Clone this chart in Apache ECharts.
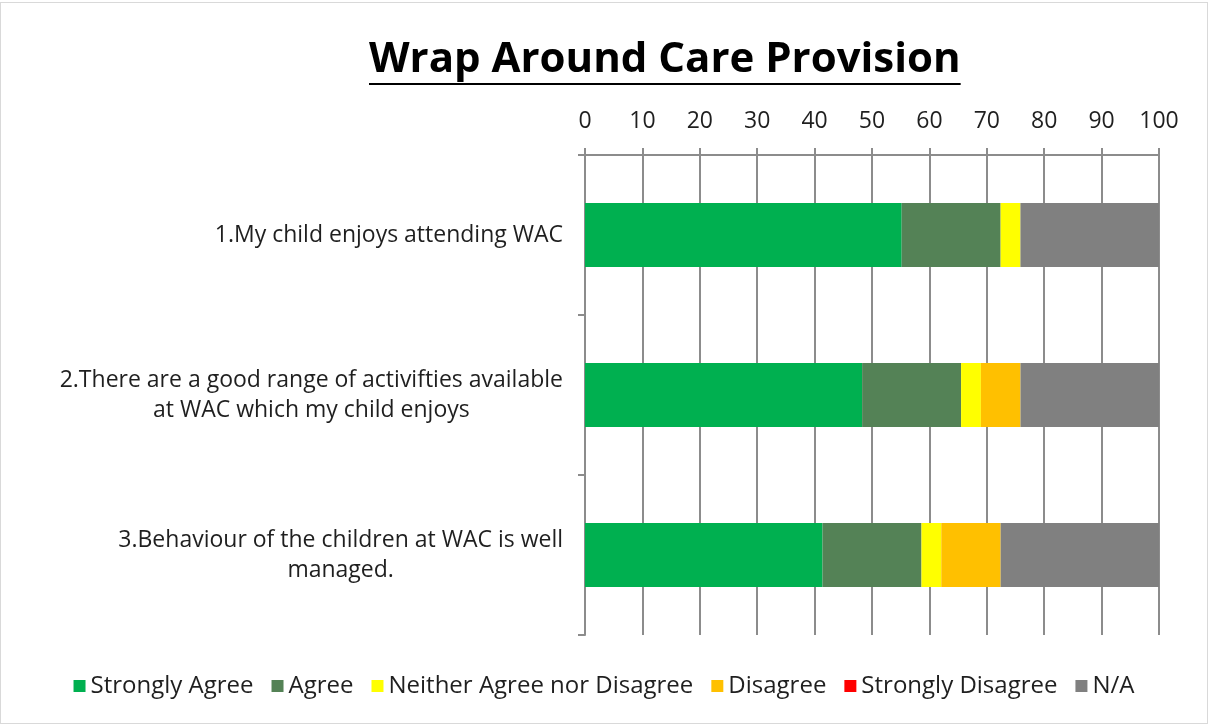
<!DOCTYPE html>
<html>
<head>
<meta charset="utf-8">
<script src="https://cdn.jsdelivr.net/npm/echarts@6/dist/echarts.min.js"></script>
<style>
  html, body { margin: 0; padding: 0; background: #fff; }
  #chart { width: 1208px; height: 722px; border: 1px solid #d9d9d9; box-sizing: border-box; margin-top: 2px; }
</style>
</head>
<body>
<div id="chart"></div>
<script>
  // 数据
  var questions = [
    '1.My child enjoys attending WAC',
    '2.There are a good range of activifties available\nat WAC which my child enjoys',
    '3.Behaviour of the children at WAC is well\nmanaged.'
  ]
  var stronglyAgree = [55.17, 48.28, 41.38]
  var agree = [17.24, 17.24, 17.24]
  var neither = [3.45, 3.45, 3.45]
  var disagree = [0, 6.9, 10.34]
  var stronglyDisagree = [0, 0, 0]
  var notApplicable = [24.14, 24.14, 27.59]
  var xTicks = [0, 100, 10] // min, max, interval

  var font = '"Open Sans", sans-serif'
  var textColor = '#1f1f1f'
  var chart = echarts.init(document.getElementById('chart'))

  function bar(name, data, color) {
    return {
      name: name,
      type: 'bar',
      stack: 'all',
      barWidth: '40%',
      data: data,
      itemStyle: { color: color },
      emphasis: { disabled: true }
    }
  }

  // 标题宽度（用于居中和下划线）
  var titleText = 'Wrap Around Care Provision'
  var ctx = document.createElement('canvas').getContext('2d')
  ctx.font = 'bold 42px ' + font
  var titleW = ctx.measureText(titleText).width
  var titleLeft = Math.round(664 - titleW / 2)

  var option = {
    animation: false,
    title: {
      text: titleText,
      left: titleLeft,
      top: 36,
      padding: 0,
      textStyle: { fontFamily: font, fontSize: 42, fontWeight: 'bold', color: '#000' }
    },
    graphic: [{
      type: 'rect',
      left: titleLeft,
      top: 80,
      shape: { width: titleW, height: 2 },
      style: { fill: '#000' }
    }],
    legend: {
      bottom: 20,
      left: 'center',
      icon: 'rect',
      itemWidth: 12,
      itemHeight: 12,
      itemGap: 18,
      textStyle: { fontFamily: font, fontSize: 24, color: textColor }
    },
    grid: { left: 584, right: 48, top: 152, bottom: 88 },
    xAxis: {
      type: 'value',
      position: 'top',
      min: xTicks[0],
      max: xTicks[1],
      interval: xTicks[2],
      axisLine: { show: true, lineStyle: { color: '#8c8c8c', width: 2 } },
      axisTick: { show: true, length: 7, lineStyle: { color: '#8c8c8c', width: 2 } },
      splitLine: { show: true, lineStyle: { color: '#8c8c8c', width: 2 } },
      axisLabel: { margin: 22, fontFamily: font, fontSize: 23, color: textColor }
    },
    yAxis: {
      type: 'category',
      inverse: true,
      data: questions,
      axisLine: { show: true, lineStyle: { color: '#8c8c8c', width: 2 } },
      axisTick: { show: true, length: 7, lineStyle: { color: '#8c8c8c', width: 2 } },
      axisLabel: {
        margin: 22,
        align: 'right',
        fontFamily: font,
        fontSize: 23,
        lineHeight: 30,
        color: textColor,
        formatter: function (v) {
          return v.split('\n').map(function (s) { return '{c|' + s + '}' }).join('\n')
        },
        rich: { c: { align: 'center', fontFamily: font, fontSize: 23, lineHeight: 30, color: textColor } }
      }
    },
    series: [
      bar('Strongly Agree', stronglyAgree, '#00B050'),
      bar('Agree', agree, '#548256'),
      bar('Neither Agree nor Disagree', neither, '#FFFF00'),
      bar('Disagree', disagree, '#FFC000'),
      bar('Strongly Disagree', stronglyDisagree, '#FF0000'),
      bar('N/A', notApplicable, '#808080')
    ]
  }
  chart.setOption(option)
</script>
</body>
</html>
